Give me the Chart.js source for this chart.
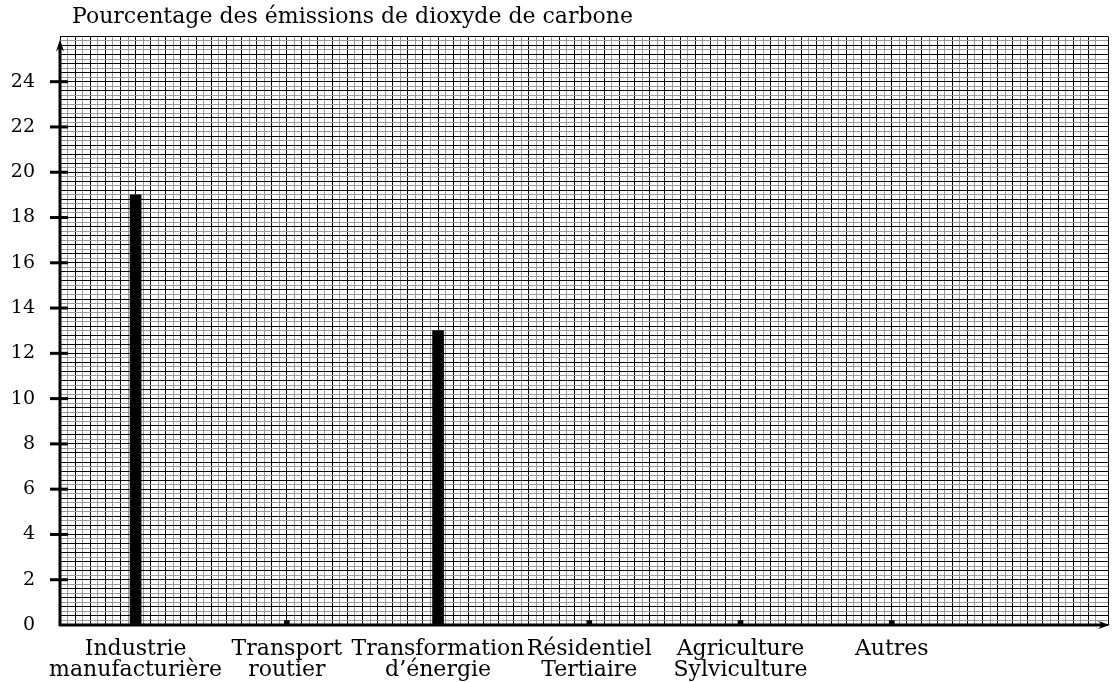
<!DOCTYPE html>
<html>
<head>
<meta charset="utf-8">
<script src="https://cdn.jsdelivr.net/npm/chart.js@4"></script>
<style>
  body { margin: 0; background: #fff; }
  #wrap { width: 1112px; height: 682px; }
</style>
</head>
<body>
<div id="wrap"><canvas id="myChart" width="1112" height="682"></canvas></div>
<script>
// donnees
const titre = "Pourcentage des émissions de dioxyde de carbone";
const secteurs = [
  ["Industrie", "manufacturière"],
  ["Transport", "routier"],
  ["Transformation", "d’énergie"],
  ["Résidentiel", "Tertiaire"],
  ["Agriculture", "Sylviculture"],
  ["Autres"]
];
const pourcentages = [19, 0.2, 13, 0.2, 0.2, 0.2];
const graduationsY = [0, 2, 4, 6, 8, 10, 12, 14, 16, 18, 20, 22, 24];

const yMax = 26;
const xMax = 6.93;
const police = "'DejaVu Serif', serif";

// grandes barres et petits reperes
const barres = pourcentages.map((v, i) => ({ x: i + 0.5, y: v >= 1 ? v : null }));
const reperes = pourcentages.map((v, i) => ({ x: i + 0.5, y: v < 1 ? v : null }));

function init () {
  let ctx = document.getElementById("myChart").getContext("2d");

  // axes flechés, graduations et titre
  const axesPlugin = {
    id: 'axes',
    afterDatasetsDraw(chart) {
      const c = chart.ctx;
      const a = chart.chartArea;
      const y = chart.scales.y;
      c.save();
      c.strokeStyle = '#000';
      c.fillStyle = '#000';
      c.lineWidth = 3;
      // axe vertical
      c.beginPath();
      c.moveTo(a.left, a.bottom + 1);
      c.lineTo(a.left, a.top + 8);
      c.stroke();
      c.beginPath();
      c.moveTo(a.left, a.top + 3);
      c.lineTo(a.left - 4, a.top + 15);
      c.lineTo(a.left, a.top + 11);
      c.lineTo(a.left + 4, a.top + 15);
      c.closePath();
      c.fill();
      // axe horizontal
      c.beginPath();
      c.moveTo(a.left - 1, a.bottom);
      c.lineTo(a.right - 4, a.bottom);
      c.stroke();
      c.beginPath();
      c.moveTo(a.right + 2, a.bottom);
      c.lineTo(a.right - 10, a.bottom - 4);
      c.lineTo(a.right - 6, a.bottom);
      c.lineTo(a.right - 10, a.bottom + 4);
      c.closePath();
      c.fill();
      // graduations
      graduationsY.forEach(v => {
        if (v === 0) return;
        const py = y.getPixelForValue(v);
        c.beginPath();
        c.moveTo(a.left - 10, py);
        c.lineTo(a.left + 8, py);
        c.stroke();
      });
      // titre
      c.font = "22px " + police;
      c.textBaseline = 'middle';
      c.textAlign = 'left';
      c.fillText(titre, a.left + 12, 17);
      c.restore();
    }
  };

  new Chart(ctx, {
    type: 'bar',
    data: {
      datasets: [
        { data: barres, backgroundColor: '#000', barThickness: 11 },
        { data: reperes, backgroundColor: '#000', barThickness: 5 }
      ]
    },
    plugins: [axesPlugin],
    options: {
      responsive: false,
      animation: false,
      layout: { padding: { top: 29, right: 4, left: 0, bottom: 0 } },
      plugins: { legend: { display: false }, tooltip: { enabled: false }, title: { display: false } },
      datasets: { bar: { grouped: false } },
      scales: {
        x: {
          type: 'linear',
          min: 0,
          max: xMax,
          offset: false,
          position: 'bottom',
          grid: { display: false, drawTicks: false, offset: false },
          border: { display: false },
          afterBuildTicks: (s) => { s.ticks = secteurs.map((c, i) => ({ value: i + 0.5 })); },
          afterFit: (s) => { s.height = 57; },
          ticks: {
            autoSkip: false,
            maxRotation: 0,
            padding: 14,
            color: '#000',
            font: { family: police, size: 22, lineHeight: 0.95 },
            callback: (v, i) => secteurs[i]
          }
        },
        xg: {
          type: 'linear',
          min: 0,
          max: xMax,
          offset: false,
          position: 'bottom',
          afterFit: (s) => { s.height = 0; },
          border: { display: false },
          grid: {
            drawTicks: false,
            offset: false,
            color: (c) => c.index % 2 ? '#999' : '#000',
            lineWidth: 1
          },
          ticks: { display: false, stepSize: 0.05, maxTicksLimit: 1000 }
        },
        y: {
          min: 0,
          max: yMax,
          afterFit: (s) => { s.width = 60; },
          border: { display: false },
          grid: {
            drawTicks: false,
            color: (c) => c.index % 2 ? '#999' : '#000',
            lineWidth: 1
          },
          ticks: {
            stepSize: 0.2,
            maxTicksLimit: 1000,
            autoSkip: false,
            padding: 25,
            color: '#000',
            font: { family: police, size: 19 },
            callback: (v) => {
              const r = Math.round(v);
              return (Math.abs(v - r) < 1e-6 && graduationsY.includes(r)) ? String(r) : '';
            }
          }
        }
      }
    }
  });
}

init();
</script>
</body>
</html>
